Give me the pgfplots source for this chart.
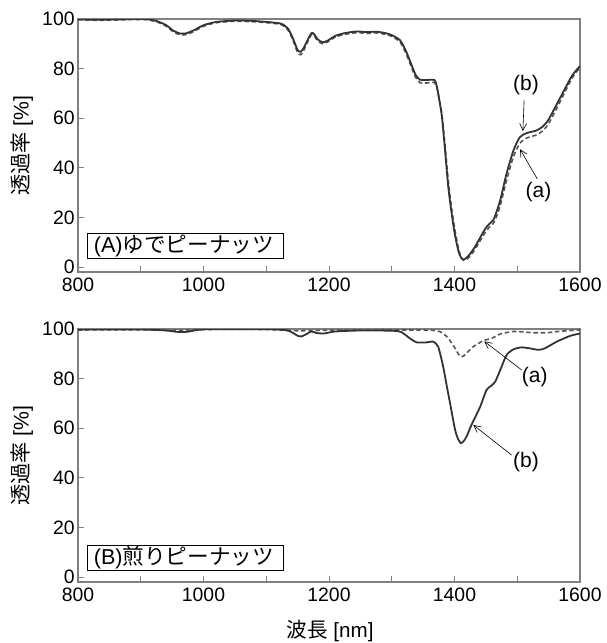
\documentclass[border=0pt]{standalone}
\usepackage{fontspec}
\setmainfont{Liberation Sans}
\newfontfamily\jp{Noto Sans CJK JP}
\usepackage{pgfplots}
\pgfplotsset{compat=1.18}
\usetikzlibrary{arrows.meta}
\definecolor{solidc}{HTML}{333333}
\definecolor{dashc}{HTML}{555555}
\definecolor{framec}{HTML}{808080}

\pgfplotstableread{
x y
800 99.9
830 99.7
860 99.8
890 100
910 99.9
925 99.2
940 97.6
952 95.3
962 94.2
972 94.2
985 95.5
1000 97.5
1020 98.8
1050 99.4
1080 99.2
1110 98.6
1125 98
1135 96
1142 92.5
1150 87.5
1155 86.8
1160 88.5
1166 91.5
1172 94.3
1176 94
1182 91.8
1190 90.6
1198 91.3
1210 93.2
1225 94.3
1245 95
1260 94.7
1275 94.9
1290 94.3
1300 93.5
1313 91.5
1322 87.5
1330 82.5
1338 77.5
1345 75.5
1355 75.4
1368 75.4
1372 72.7
1376 67
1380 60.6
1385 47
1390 32.5
1395 22.5
1400 14
1406 6.7
1410 4
1414 3
1418 3.5
1424 5
1433 8.3
1443 12.8
1450 15.8
1456 17.5
1462 19
1468 23
1474 28
1483 37.7
1494 47
1504 52.3
1515 54
1530 55
1540 56.5
1550 59.5
1568 68
1587 77
1600 81
}\topb

\pgfplotstableread{
x y
800 99.7
830 99.5
860 99.6
890 99.8
910 99.7
925 98.9
940 97.2
952 94.8
962 93.7
972 93.7
985 95
1000 97.1
1020 98.5
1050 99.1
1080 98.9
1110 98.3
1125 97.6
1135 95.4
1142 91.8
1150 86.5
1155 85.6
1160 87.5
1166 90.8
1172 93.7
1176 93.4
1182 91.2
1190 90
1198 90.8
1210 92.7
1225 93.8
1245 94.5
1260 94.2
1275 94.4
1290 93.8
1300 93
1313 90.8
1322 86.5
1330 81.5
1338 76.5
1345 74.3
1355 74.2
1368 74.4
1372 72.3
1376 67.5
1380 61.5
1385 49
1390 35
1395 24.5
1400 16
1406 7.8
1410 4.2
1414 2.8
1418 2.8
1424 4.2
1433 7.2
1443 11.5
1450 14.3
1456 16.2
1462 17.6
1468 21
1474 25.8
1483 35
1494 44.5
1504 49.8
1515 52
1530 53.2
1540 54.8
1550 57.8
1568 66.5
1587 76
1600 80.5
}\topa

\pgfplotstableread{
x y
800 99.8
900 99.8
940 99.4
960 98.8
975 98.9
990 99.6
1010 99.9
1100 99.9
1130 99.6
1140 98.8
1150 97.3
1156 97
1163 97.8
1172 99
1180 98.4
1192 98.2
1210 99
1250 99.4
1300 99.3
1315 98.8
1329 96.2
1340 94.6
1355 94.6
1366 94.9
1374 92.9
1382 84.8
1387 78
1393 70
1401 59.3
1406 55.5
1410 54
1414 54.6
1419 56.5
1427 61.3
1441 68.7
1451 75.4
1459 77.2
1465 78.8
1473 83.5
1483 89.5
1494 91.8
1507 92.6
1520 92.2
1534 91.6
1544 92.2
1563 94.9
1584 97.2
1600 98.2
}\botb

\pgfplotstableread{
x y
800 99.6
900 99.7
960 99.4
1000 99.8
1100 99.8
1150 99.3
1200 99.5
1300 99.6
1350 99.6
1372 99.3
1380 98.5
1388 96.9
1395 94.5
1401 92.2
1406 90
1410 88.8
1415 89.2
1419 90.2
1430 92.9
1446 95.3
1459 96.2
1473 98
1494 99
1510 98.8
1526 98.5
1547 98.5
1565 99
1579 99.3
1600 99.6
}\bota

\tikzset{
  arr/.style={black, line width=0.3pt, -{Straight Barb[length=3.5pt,width=3.5pt]}},
  lbox/.style={draw=black, line width=0.5pt, anchor=south west, inner xsep=0pt, inner ysep=0pt, minimum height=12.5pt, text width=98pt, align=left, font=\fontsize{10.8}{12}\selectfont},
  lab/.style={font=\fontsize{10.5}{12}\selectfont},
}
\pgfplotsset{
  myaxis/.style={
    anchor=north west,
    width=251pt, height=126.5pt, scale only axis,
    xmin=800, xmax=1600, ymin=-2, ymax=100,
    xtick={800,900,...,1600},
    xticklabels={800,,1000,,1200,,1400,,1600},
    ytick={0,20,...,100},
    tick align=inside,
    major tick length=3pt,
    xtick pos=bottom,
    ytick pos=left,
    tick style={framec, line width=0.4pt},
    axis line style={framec, line width=0.6pt},
    /pgf/number format/assume math mode=true,
    ticklabel style={font=\fontsize{9.7}{11}\selectfont},
    yticklabel style={inner sep=1.5pt},
    xticklabel style={inner sep=3pt},
    scaled ticks=false,
    every axis y label/.style={at={(axis description cs:-0.1116,0.5)}, rotate=90, anchor=center, font=\fontsize{10.6}{12}\selectfont},
    ylabel={{\jp 透過率} [\%]},
    clip=true,
  },
  solidline/.style={solidc, line width=0.9pt, smooth, tension=0.4, no marks},
  dashline/.style={dashc, line width=0.8pt, dash pattern=on 2.2pt off 1.4pt, smooth, tension=0.4, no marks},
}

\begin{document}
\begin{tikzpicture}
\useasboundingbox (0pt,0pt) rectangle (303pt,-321.5pt);
\begin{axis}[myaxis, at={(39pt,-9.5pt)}]
\addplot[dashline] table[x=x,y=y] {\topa};
\addplot[solidline] table[x=x,y=y] {\topb};
\node[lbox] at (axis cs:814,3.4) {\hspace*{3.3pt}(A){\jp ゆでピーナッツ}};
\node[lab] at (axis cs:1514,73.4) {(b)};
\draw[arr] (axis cs:1511,67.3) -- (axis cs:1509,54.8);
\node[lab] at (axis cs:1534,30.3) {(a)};
\draw[arr] (axis cs:1532,35.5) -- (axis cs:1504.5,47.5);
\end{axis}
\begin{axis}[myaxis, at={(39pt,-164.5pt)},
  xlabel={{\jp 波長} [nm]},
  every axis x label/.style={at={(axis description cs:0.502,-0.193)}, anchor=center, font=\fontsize{10.3}{12}\selectfont}]
\addplot[dashline] table[x=x,y=y] {\bota};
\addplot[solidline] table[x=x,y=y] {\botb};
\node[lbox] at (axis cs:814,2.5) {\hspace*{3.3pt}(B){\jp 煎りピーナッツ}};
\node[lab] at (axis cs:1528,80.8) {(a)};
\draw[arr] (axis cs:1507,83.5) -- (axis cs:1447.5,95);
\node[lab] at (axis cs:1514,46.5) {(b)};
\draw[arr] (axis cs:1491,49.2) -- (axis cs:1430,61.3);
\end{axis}
\end{tikzpicture}
\end{document}
